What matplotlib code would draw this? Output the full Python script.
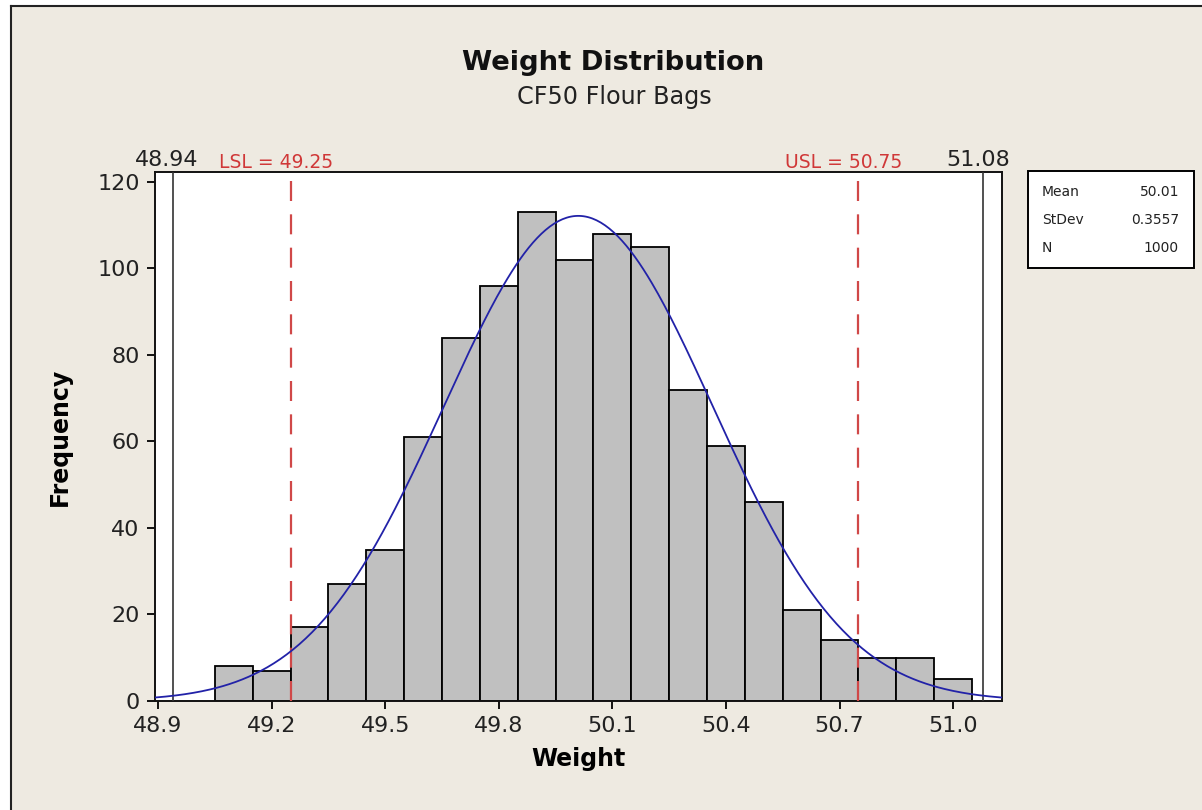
import numpy as np
import matplotlib
matplotlib.use("Agg")
import matplotlib.pyplot as plt
from matplotlib.patches import Rectangle

# ---- data ----
bin_edges = [49.05, 49.15, 49.25, 49.35, 49.45, 49.55, 49.65, 49.75, 49.85, 49.95,
             50.05, 50.15, 50.25, 50.35, 50.45, 50.55, 50.65, 50.75, 50.85, 50.95, 51.05]
counts = [8, 7, 17, 27, 35, 61, 84, 96, 113, 102, 108, 105, 72, 59, 46, 21, 14, 10, 10, 5]
mean_w = 50.01
stdev_w = 0.3557
n_obs = 1000
lsl = 49.25
usl = 50.75
data_min = 48.94
data_max = 51.08
x_ticks = [48.9, 49.2, 49.5, 49.8, 50.1, 50.4, 50.7, 51.0]
x_tick_labels = ["48.9", "49.2", "49.5", "49.8", "50.1", "50.4", "50.7", "51.0"]
y_ticks = [0, 20, 40, 60, 80, 100, 120]

W, H = 1202, 810
fig = plt.figure(figsize=(W / 100, H / 100), dpi=100, facecolor="white")
bg = "#EEEAE1"
fig.patches.append(Rectangle((11 / W, 0), 1, 1 - 6 / H, transform=fig.transFigure,
                             facecolor=bg, edgecolor="none", zorder=-10))
fig.add_artist(plt.Line2D([11 / W, 11 / W], [0, 1 - 6 / H], transform=fig.transFigure,
                          color="#222222", lw=1.5))
fig.add_artist(plt.Line2D([11 / W, 1], [1 - 6 / H, 1 - 6 / H], transform=fig.transFigure,
                          color="#222222", lw=1.5))

ax = fig.add_axes([155 / W, (H - 701) / H, (1002 - 155) / W, (701 - 172) / H])
ax.set_facecolor("white")

widths = np.diff(bin_edges)
ax.bar(bin_edges[:-1], counts, width=widths, align="edge", color="#C0C0C0",
       edgecolor="black", linewidth=1.3, zorder=2)

xlim = (48.892, 51.129)
xs = np.linspace(xlim[0], xlim[1], 400)
bw = widths[0]
ys = n_obs * bw * np.exp(-0.5 * ((xs - mean_w) / stdev_w) ** 2) / (stdev_w * np.sqrt(2 * np.pi))
ax.plot(xs, ys, color="#2222A8", lw=1.3, zorder=4)

for v in (data_min, data_max):
    ax.axvline(v, color="#333333", lw=1.2, zorder=3)
for v in (lsl, usl):
    ax.axvline(v, color="#D04848", lw=1.6, dashes=(9, 6), zorder=3)

ax.set_xlim(*xlim)
ax.set_ylim(0, 122.3)
ax.set_xticks(x_ticks)
ax.set_xticklabels(x_tick_labels)
ax.set_yticks(y_ticks)
ax.tick_params(axis="both", direction="out", length=6, width=1.3, labelsize=16,
               labelcolor="#222222", pad=5)
for s in ax.spines.values():
    s.set_linewidth(1.4)
    s.set_color("#111111")

ax.set_xlabel("Weight", fontsize=17, fontweight="bold", labelpad=8)
ax.set_ylabel("Frequency", fontsize=17, fontweight="bold", labelpad=18)

# labels above the reference lines
ax.annotate("48.94", xy=(data_min, 1), xycoords=("data", "axes fraction"),
            xytext=(-6, 12), textcoords="offset pixels", ha="center", va="center",
            fontsize=16, color="#222222")
ax.annotate("51.08", xy=(data_max, 1), xycoords=("data", "axes fraction"),
            xytext=(-5, 12), textcoords="offset pixels", ha="center", va="center",
            fontsize=16, color="#222222")
ax.annotate("LSL = %.2f" % lsl, xy=(lsl, 1), xycoords=("data", "axes fraction"),
            xytext=(-14, 10), textcoords="offset pixels", ha="center", va="center",
            fontsize=13.5, color="#D03838")
ax.annotate("USL = %.2f" % usl, xy=(usl, 1), xycoords=("data", "axes fraction"),
            xytext=(-15, 10), textcoords="offset pixels", ha="center", va="center",
            fontsize=13.5, color="#D03838")

fig.text(613 / W, 1 - 63 / H, "Weight Distribution", ha="center", va="center",
         fontsize=19.7, fontweight="bold", color="#111111")
fig.text(614 / W, 1 - 97 / H, "CF50 Flour Bags", ha="center", va="center",
         fontsize=17.2, color="#222222")

# stats box
fig.patches.append(Rectangle((1028 / W, 1 - 268 / H), (1194 - 1028) / W, (268 - 171) / H,
                             transform=fig.transFigure, facecolor="white",
                             edgecolor="black", linewidth=1.4))
rows = [("Mean", "%.2f" % mean_w), ("StDev", "%.4f" % stdev_w), ("N", "%d" % n_obs)]
for i, (k, v) in enumerate(rows):
    yy = 1 - (192 + 28 * i) / H
    fig.text(1042 / W, yy, k, ha="left", va="center", fontsize=10, color="#222222")
    fig.text(1179 / W, yy, v, ha="right", va="center", fontsize=10, color="#222222")

fig.savefig("out.png", dpi=100, facecolor="white")
